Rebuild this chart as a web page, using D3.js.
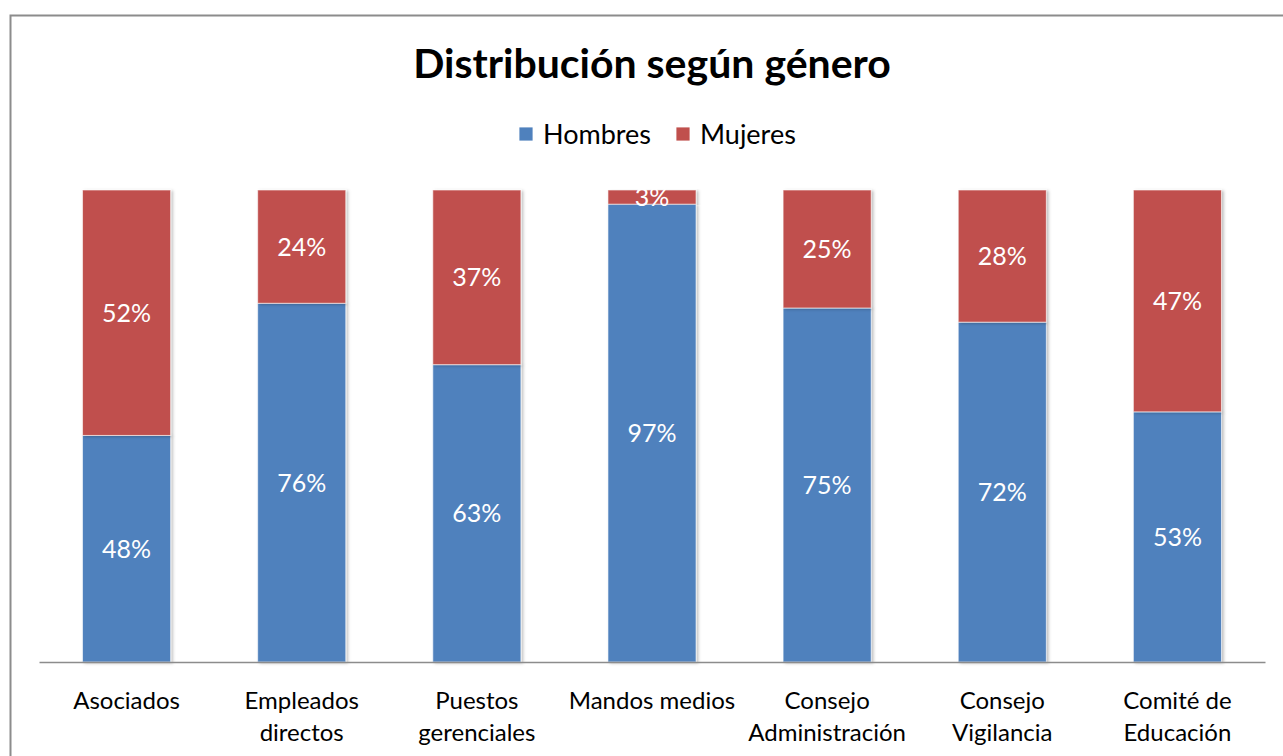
<!DOCTYPE html>
<html>
<head>
<meta charset="utf-8">
<script src="https://cdn.jsdelivr.net/npm/d3@7"></script>
<style>
  body { margin: 0; background: #fff; }
  text { font-family: Lato, "Open Sans", sans-serif; }
</style>
</head>
<body>
<script>
(function () {

  // Categories and series values (percent)
  let categories = [
    ['Asociados'],
    ['Empleados', 'directos'],
    ['Puestos', 'gerenciales'],
    ['Mandos medios'],
    ['Consejo', 'Administración'],
    ['Consejo', 'Vigilancia'],
    ['Comité de', 'Educación'],
  ];
  let hombres = [48, 76, 63, 97, 75, 72, 53];
  let mujeres = [52, 24, 37, 3, 25, 28, 47];

  let seriesNames = ['Hombres', 'Mujeres'];
  let colors = ['#4F81BD', '#C0504D'];

  function go() {
    let width = 1283, height = 756;

    let svg = d3.select('body').append('svg')
        .attr('width', width)
        .attr('height', height);

    let defs = svg.append('defs');
    let f = defs.append('filter').attr('id', 'shadow')
        .attr('x', '-10%').attr('y', '-5%').attr('width', '130%').attr('height', '110%');
    f.append('feDropShadow')
        .attr('dx', 2).attr('dy', 1).attr('stdDeviation', 1.5)
        .attr('flood-color', '#000').attr('flood-opacity', 0.25);

    // Chart border (goes off right/bottom edge)
    svg.append('rect')
      .attr('x', 10.5).attr('y', 15.5)
      .attr('width', 1300).attr('height', 800)
      .attr('fill', 'none').attr('stroke', '#8c8c8c').attr('stroke-width', 2);

    // Title
    svg.append('text')
      .attr('x', 652).attr('y', 78)
      .attr('text-anchor', 'middle')
      .attr('font-size', 41).attr('font-weight', 'bold')
      .attr('fill', '#000')
      .text('Distribución según género');

    // Legend
    let legendItems = [{ x: 519, name: seriesNames[0], c: colors[0] }, { x: 676, name: seriesNames[1], c: colors[1] }];
    let lg = svg.append('g').attr('class', 'legend');
    legendItems.forEach(d => {
      lg.append('rect').attr('x', d.x).attr('y', 127).attr('width', 14).attr('height', 14)
        .attr('fill', d.c).attr('stroke', '#fff').attr('stroke-width', 0.8);
      lg.append('text').attr('x', d.x + 24).attr('y', 144)
        .attr('font-size', 27).attr('fill', '#000').text(d.name);
    });

    let margin = { left: 39, right: 18, top: 190, bottom: 94 };
    let x = d3.scaleBand()
        .domain(d3.range(categories.length))
        .range([margin.left, width - margin.right])
        .paddingInner(0.497).paddingOuter(0.2485);
    let y = d3.scaleLinear().domain([0, 100]).range([height - margin.bottom, margin.top]);

    let rows = categories.map((c, i) => ({ i: i, h: hombres[i], m: mujeres[i] }));
    let stack = d3.stack().keys(['h', 'm'])(rows);

    let bars = svg.append('g');
    stack.forEach((layer, li) => {
      bars.append('g').selectAll('rect').data(layer).enter()
        .append('rect')
        .attr('x', d => x(d.data.i))
        .attr('y', d => y(d[1]))
        .attr('width', x.bandwidth())
        .attr('height', d => y(d[0]) - y(d[1]))
        .attr('fill', colors[li])
        .attr('stroke', '#fff').attr('stroke-opacity', 0.6).attr('stroke-width', 1)
        .attr('filter', 'url(#shadow)');
    });

    // Data labels
    stack.forEach(layer => {
      bars.append('g').selectAll('text').data(layer).enter()
        .append('text')
        .attr('x', d => x(d.data.i) + x.bandwidth() / 2)
        .attr('y', d => (y(d[0]) + y(d[1])) / 2 + 9)
        .attr('text-anchor', 'middle')
        .attr('font-size', 25)
        .attr('fill', '#fff')
        .text(d => (d[1] - d[0]) + '%');
    });

    // Axis
    let axis = svg.append('g')
        .attr('transform', 'translate(0,' + (height - margin.bottom) + ')')
        .call(d3.axisBottom(x).tickSize(0).tickFormat(''));
    axis.select('.domain').attr('stroke', '#8c8c8c').attr('stroke-width', 1.5);

    let labels = svg.append('g').selectAll('text').data(categories).enter()
      .append('text')
      .attr('text-anchor', 'middle')
      .attr('font-size', 24)
      .attr('fill', '#000');
    labels.each(function (lines, i) {
      let t = d3.select(this);
      lines.forEach((ln, k) => {
        t.append('tspan')
          .attr('x', x(i) + x.bandwidth() / 2)
          .attr('y', 709 + k * 32)
          .text(ln);
      });
    });
  }

  document.addEventListener('DOMContentLoaded', go);
})();
</script>
</body>
</html>
